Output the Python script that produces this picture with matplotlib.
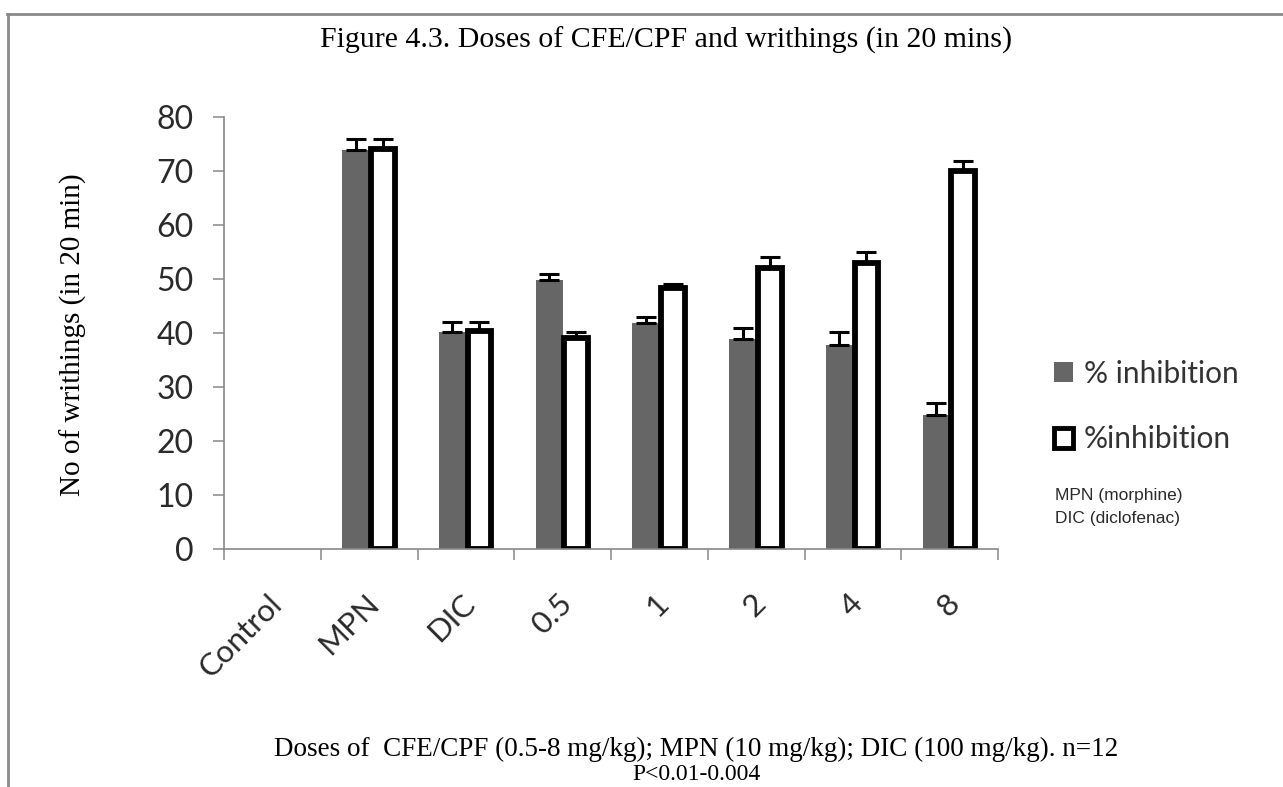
import numpy as np
import matplotlib
matplotlib.use('Agg')
import matplotlib.pyplot as plt
import matplotlib.transforms as mtransforms
from matplotlib.patches import Patch
from matplotlib.lines import Line2D

# data
doses = ['Control', 'MPN', 'DIC', '0.5', '1', '2', '4', '8']
cfe = [np.nan, 73.8, 40.1, 49.8, 41.9, 38.9, 37.8, 24.8]
cfe_err = [0, 2.2, 2.0, 1.2, 1.1, 2.1, 2.4, 2.2]
cpf = [np.nan, 74.0, 40.4, 39.1, 48.3, 52.0, 53.0, 70.0]
cpf_err = [0, 2.0, 1.6, 1.1, 0.7, 2.0, 2.0, 1.8]

W, H = 1283, 787
fig = plt.figure(figsize=(W/100, H/100), dpi=100)

# axes box in pixels
x0, x1 = 224, 998
y0, y1 = 549, 117
ax = fig.add_axes([x0/W, 1 - y0/H, (x1-x0)/W, (y0-y1)/H])

x = np.arange(len(doses))
bw = 0.28
gray = '#666666'
axcol = '#888888'
txtcol = '#2a2a2a'

ax.bar(x - bw/2, cfe, bw, color=gray, edgecolor='none',
       yerr=[np.zeros(len(x)), cfe_err], capsize=7,
       error_kw=dict(ecolor='black', elinewidth=2.2, capthick=2.2))
ax.bar(x + bw/2, cpf, bw*0.88, color='white', edgecolor='black', linewidth=4.2,
       yerr=[np.zeros(len(x)), cpf_err], capsize=7,
       error_kw=dict(ecolor='black', elinewidth=2.2, capthick=2.2))

ax.set_xlim(-0.5, len(doses) - 0.5)
ax.set_ylim(0, 80)
ax.set_yticks(np.arange(0, 81, 10))

for s in ['top', 'right']:
    ax.spines[s].set_visible(False)
for s in ['left', 'bottom']:
    ax.spines[s].set_color(axcol)
    ax.spines[s].set_linewidth(1.2)

tickfont = 'Lato'
ax.tick_params(axis='y', direction='out', length=8, width=1.1, color=axcol,
               labelsize=23, labelcolor=txtcol, pad=14)
for lab in ax.get_yticklabels():
    lab.set_family(tickfont)

# boundaries get the ticks, centres get the labels
ax.set_xticks(np.arange(-0.5, len(doses)), minor=True)
ax.set_xticks(x)
ax.tick_params(axis='x', which='minor', direction='out', length=8, width=1.1, color=axcol)
ax.tick_params(axis='x', which='major', length=0, pad=36)
ax.set_xticklabels(doses, rotation=45, ha='right', va='center',
                   rotation_mode='anchor', fontsize=22.5, family=tickfont, color=txtcol)
offset = mtransforms.ScaledTranslation(5/100, 0, fig.dpi_scale_trans)
for lab in ax.get_xticklabels():
    lab.set_transform(lab.get_transform() + offset)

ax.set_ylabel('No of writhings (in 20 min)', family='Liberation Serif',
              fontsize=21, va='center')
ax.yaxis.set_label_coords(73/W, 1 - 335/H, transform=fig.transFigure)

fig.text(666/W, 1 - 40/H, 'Figure 4.3. Doses of CFE/CPF and writhings (in 20 mins)',
         ha='center', va='center', family='Liberation Serif', fontsize=21.5)
fig.text(696/W, 1 - 749/H,
         'Doses of  CFE/CPF (0.5-8 mg/kg); MPN (10 mg/kg); DIC (100 mg/kg). n=12',
         ha='center', va='center', family='Liberation Serif', fontsize=19.5)
fig.text(696/W, 1 - 775/H, 'P<0.01-0.004', ha='center', va='center',
         family='Liberation Serif', fontsize=17)

handles = [Patch(facecolor=gray, edgecolor='none'),
           Patch(facecolor='white', edgecolor='black', linewidth=3.5)]
leg = fig.legend(handles, ['% inhibition', '%inhibition'], loc='upper left',
                 bbox_to_anchor=(1027/W, 1 - 333/H), frameon=False,
                 prop=dict(family=tickfont, size=21.5), labelcolor='#333333',
                 handlelength=0.65, handleheight=0.65, handletextpad=0.35,
                 labelspacing=1.25)

fig.text(1055/W, 1 - 495/H, 'MPN (morphine)', ha='left', va='center',
         family='Liberation Sans', fontsize=12.5, color=txtcol)
fig.text(1055/W, 1 - 518/H, 'DIC (diclofenac)', ha='left', va='center',
         family='Liberation Sans', fontsize=12.5, color=txtcol)

# outer frame of the chart area
fig.add_artist(Line2D([7/W, 1], [1 - 14/H, 1 - 14/H], transform=fig.transFigure,
                      color='#8a8a8a', linewidth=2))
fig.add_artist(Line2D([8/W, 8/W], [0, 1 - 14/H], transform=fig.transFigure,
                      color='#8a8a8a', linewidth=2))

fig.savefig('out.png', dpi=100)
